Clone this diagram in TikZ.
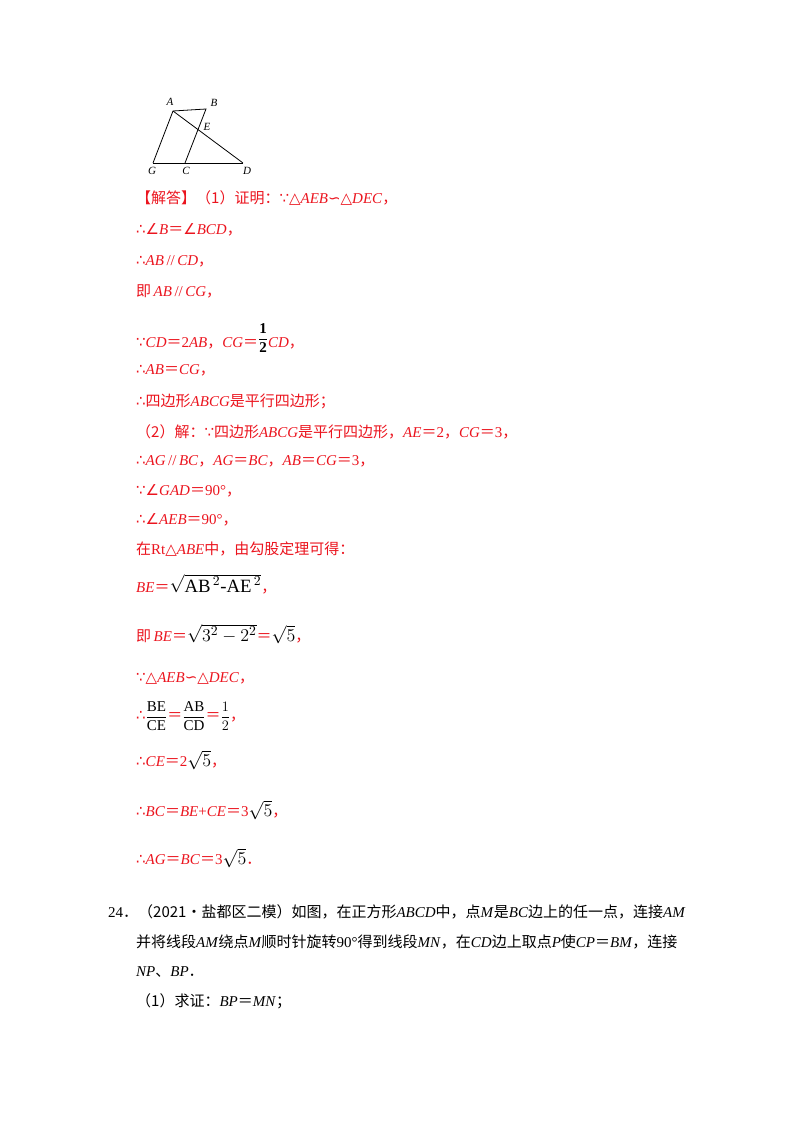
\documentclass[tikz,border=0pt]{standalone}
\usepackage{fontspec}
\setmainfont{Liberation Serif}
\newfontfamily\cjk{Noto Sans CJK SC}
\newfontfamily\sym{DejaVu Sans}
\definecolor{ans}{RGB}{235,20,30}
\newcommand{\zh}[1]{{\cjk #1}}
\newcommand{\sy}[1]{{\sym #1}}
\newcommand{\eq}{{\cjk ＝}}
\newcommand{\bl}[1]{\textcolor{black}{#1}}
\newcommand{\bigs}[1]{\textcolor{black}{\scalebox{1.25}{#1}}}
\begin{document}
\begin{tikzpicture}[x=1pt,y=-1pt,
  ln/.style={anchor=west,text=ans,font=\fontsize{15}{18}\selectfont,inner sep=0pt},
  bk/.style={anchor=west,font=\fontsize{15}{18}\selectfont,inner sep=0pt},
  lab/.style={font=\fontsize{11}{12}\selectfont\itshape,inner sep=0pt}]
\useasboundingbox (0,0) rectangle (800,1132);
% figure
\coordinate (A) at (173,111); \coordinate (B) at (206,109);
\coordinate (G) at (153,163); \coordinate (C) at (185,163); \coordinate (D) at (243,163);
\draw[line width=0.8pt] (G)--(A)--(B)--(C); \draw[line width=0.8pt] (A)--(D); \draw[line width=0.8pt] (G)--(D);
\node[lab] (la) at (170,102) {A}; \node[lab] (lb) at (214,103) {B};
\node[lab] (le) at (207,127) {E}; \node[lab] (lg) at (152,171) {G};
\node[lab] (lc) at (186,171) {C}; \node[lab] (ld) at (247,171) {D};
% lines
\node[ln] (l1) at (136,198) {\zh{【解答】（1）证明：}\sy{∵△}\textit{AEB}\sy{∽△}\textit{DEC}\zh{，}};
\node[ln] (l2) at (136,230) {\sy{∴∠}\textit{B}\eq\sy{∠}\textit{BCD}\zh{，}};
\node[ln] (l3) at (136,261) {\sy{∴}\textit{AB}\,//\,\textit{CD}\zh{，}};
\node[ln] (l4) at (136,291) {\zh{即}\,\textit{AB}\,//\,\textit{CG}\zh{，}};
\node[ln] (l5) at (136,338) {\sy{∵}\textit{CD}\eq2\textit{AB}\zh{，}\textit{CG}\eq\raisebox{5pt}{\bl{$\displaystyle\frac{\mathbf 1}{\mathbf 2}$}}\textit{CD}\zh{，}};
\node[ln] (l6) at (136,370) {\sy{∴}\textit{AB}\eq\textit{CG}\zh{，}};
\node[ln] (l7) at (136,401) {\sy{∴}\zh{四边形}\textit{ABCG}\zh{是平行四边形；}};
\node[ln] (l8) at (136,432) {\zh{（2）解：}\sy{∵}\zh{四边形}\textit{ABCG}\zh{是平行四边形，}\textit{AE}\eq2\zh{，}\textit{CG}\eq3\zh{，}};
\node[ln] (l9) at (136,461) {\sy{∴}\textit{AG}\,//\,\textit{BC}\zh{，}\textit{AG}\eq\textit{BC}\zh{，}\textit{AB}\eq\textit{CG}\eq3\zh{，}};
\node[ln] (l10) at (136,491) {\sy{∵∠}\textit{GAD}\eq90°\zh{，}};
\node[ln] (l11) at (136,520) {\sy{∴∠}\textit{AEB}\eq90°\zh{，}};
\node[ln] (l12) at (136,549) {\zh{在}Rt\sy{△}\textit{ABE}\zh{中，由勾股定理可得：}};
\node[ln] (l13) at (136,584) {\textit{BE}\eq\bigs{$\sqrt{\mathrm{AB}^{\,2}\mbox{-}\mathrm{AE}^{\,2}}$}\zh{，}};
\node[ln] (l14) at (136,634) {\zh{即}\,\textit{BE}\eq\bigs{$\sqrt{3^{2}-2^{2}}$}\eq\bigs{$\sqrt{5}$}\zh{，}};
\node[ln] (l15) at (136,678) {\sy{∵△}\textit{AEB}\sy{∽△}\textit{DEC}\zh{，}};
\node[ln] (l16) at (136,716) {\sy{∴}\raisebox{0pt}{\bl{$\displaystyle\frac{\mathrm{BE}}{\mathrm{CE}}$}}\eq\raisebox{0pt}{\bl{$\displaystyle\frac{\mathrm{AB}}{\mathrm{CD}}$}}\eq\raisebox{0pt}{\bl{$\displaystyle\frac{1}{2}$}}\zh{，}};
\node[ln] (l17) at (136,760) {\sy{∴}\textit{CE}\eq2\bigs{$\sqrt{5}$}\zh{，}};
\node[ln] (l18) at (136,810) {\sy{∴}\textit{BC}\eq\textit{BE}+\textit{CE}\eq3\bigs{$\sqrt{5}$}\zh{，}};
\node[ln] (l19) at (136,858) {\sy{∴}\textit{AG}\eq\textit{BC}\eq3\bigs{$\sqrt{5}$}\zh{．}};
\node[bk] (q1) at (108,912) {24\zh{．（2021•盐都区二模）如图，在正方形}\textit{ABCD}\zh{中，点}\textit{M}\zh{是}\textit{BC}\zh{边上的任一点，连接}\textit{AM}};
\node[bk] (q2) at (136,942) {\zh{并将线段}\textit{AM}\zh{绕点}\textit{M}\zh{顺时针旋转}90°\zh{得到线段}\textit{MN}\zh{，在}\textit{CD}\zh{边上取点}\textit{P}\zh{使}\textit{CP}\eq\textit{BM}\zh{，连接}};
\node[bk] (q3) at (136,972) {\textit{NP}\zh{、}\textit{BP}\zh{．}};
\node[bk] (q4) at (136,1001) {\zh{（1）求证：}\textit{BP}\eq\textit{MN}\zh{；}};
\end{tikzpicture}
\end{document}
